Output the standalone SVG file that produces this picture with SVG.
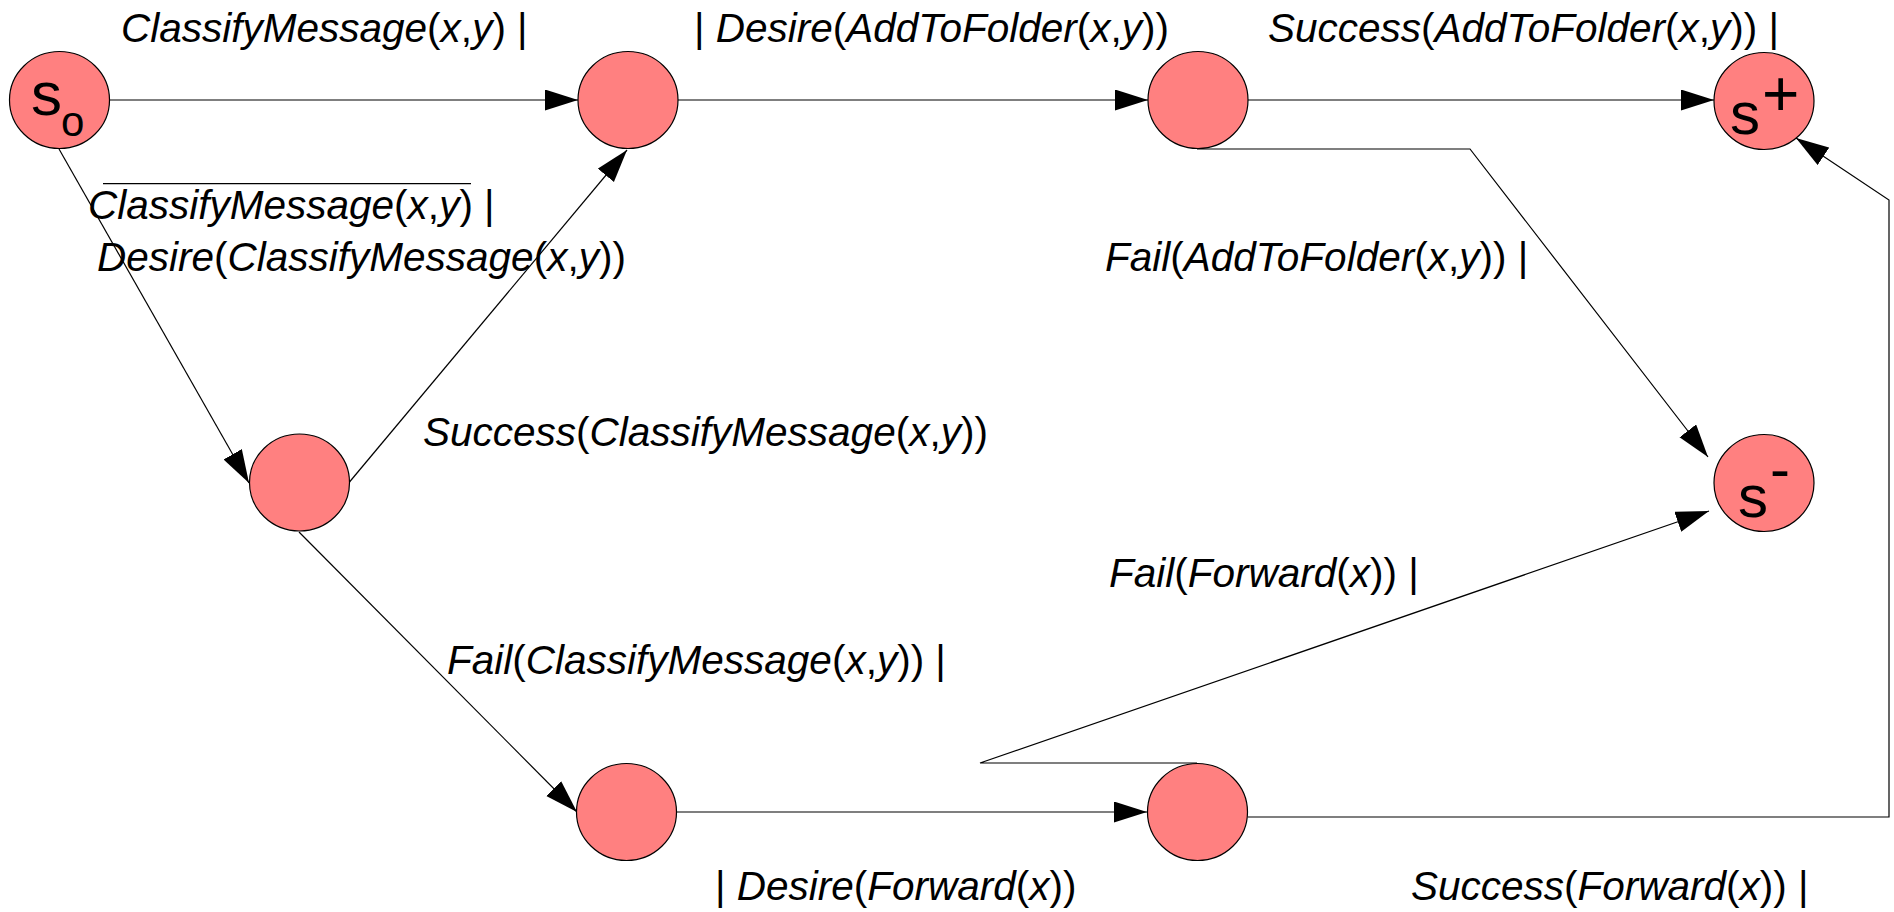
<svg xmlns="http://www.w3.org/2000/svg" width="1894" height="912" viewBox="0 0 1894 912">
<style>
.node{fill:#FF8080;stroke:#000;stroke-width:1.2}
.lbl{font-family:"Liberation Sans",Arial,sans-serif;font-size:40.5px;font-style:italic;fill:#000}
.u{font-style:normal}
.conn{fill:none;stroke:#000;stroke-width:1.2;marker-end:url(#arr)}
.st{font-family:"Liberation Sans",Arial,sans-serif;fill:#000}
</style>
<defs>
<marker id="arr" markerUnits="userSpaceOnUse" markerWidth="34" markerHeight="22" refX="33" refY="10.5" orient="auto" viewBox="0 0 34 22">
<path d="M0,0 L33,10.5 L0,21 z" fill="#000"/>
</marker>
</defs>
<rect width="1894" height="912" fill="#fff"/>
<g id="connectors">
<path class="conn" d="M109.5,100 L578,100"/>
<path class="conn" d="M678,100 L1148,100"/>
<path class="conn" d="M1248,100 L1714,100"/>
<path class="conn" d="M59,149 L249,483"/>
<path class="conn" d="M349.5,482 L627,150"/>
<path class="conn" d="M299,532 L577,812"/>
<path class="conn" d="M676,812 L1147,812"/>
<path class="conn" d="M1197,149 L1470,149 L1708,457"/>
<path class="conn" d="M1197,763 L980,763 L1709,511"/>
<path class="conn" d="M1248,817 L1889,817 L1889,200 L1796,138"/>
</g>
<g id="labels">
<text class="lbl" x="121" y="42">ClassifyMessage<tspan class="u">(</tspan>x<tspan class="u">,</tspan>y<tspan class="u">) |</tspan></text>
<text class="lbl" x="694" y="42"><tspan class="u">| </tspan>Desire<tspan class="u">(</tspan>AddToFolder<tspan class="u">(</tspan>x<tspan class="u">,</tspan>y<tspan class="u">))</tspan></text>
<text class="lbl" x="1268" y="42">Success<tspan class="u">(</tspan>AddToFolder<tspan class="u">(</tspan>x<tspan class="u">,</tspan>y<tspan class="u">)) |</tspan></text>
<line x1="103" y1="183.6" x2="471" y2="183.6" stroke="#000" stroke-width="1.3"/>
<text class="lbl" x="88" y="219">ClassifyMessage<tspan class="u">(</tspan>x<tspan class="u">,</tspan>y<tspan class="u">) |</tspan></text>
<text class="lbl" x="97" y="271">Desire<tspan class="u">(</tspan>ClassifyMessage<tspan class="u">(</tspan>x<tspan class="u">,</tspan>y<tspan class="u">))</tspan></text>
<text class="lbl" x="423" y="446">Success<tspan class="u">(</tspan>ClassifyMessage<tspan class="u">(</tspan>x<tspan class="u">,</tspan>y<tspan class="u">))</tspan></text>
<text class="lbl" x="1105" y="271">Fail<tspan class="u">(</tspan>AddToFolder<tspan class="u">(</tspan>x<tspan class="u">,</tspan>y<tspan class="u">)) |</tspan></text>
<text class="lbl" x="1109" y="587">Fail<tspan class="u">(</tspan>Forward<tspan class="u">(</tspan>x<tspan class="u">)) |</tspan></text>
<text class="lbl" x="447" y="674">Fail<tspan class="u">(</tspan>ClassifyMessage<tspan class="u">(</tspan>x<tspan class="u">,</tspan>y<tspan class="u">)) |</tspan></text>
<text class="lbl" x="715" y="900"><tspan class="u">| </tspan>Desire<tspan class="u">(</tspan>Forward<tspan class="u">(</tspan>x<tspan class="u">))</tspan></text>
<text class="lbl" x="1411" y="900">Success<tspan class="u">(</tspan>Forward<tspan class="u">(</tspan>x<tspan class="u">)) |</tspan></text>
</g>
<g id="s0">
<ellipse class="node" cx="59.5" cy="100" rx="50" ry="48.5"/>
<text class="st" x="31" y="115" font-size="62">s</text>
<text class="st" x="61" y="136" font-size="42">o</text>
</g>
<g id="n2"><ellipse class="node" cx="628" cy="100" rx="50" ry="48.5"/></g>
<g id="n4"><ellipse class="node" cx="1198" cy="100" rx="50" ry="48.5"/></g>
<g id="splus">
<ellipse class="node" cx="1764" cy="101" rx="50" ry="48.5"/>
<text class="st" x="1730" y="134" font-size="60">s</text>
<text class="st" x="1762" y="116" font-size="64">+</text>
</g>
<g id="n3"><ellipse class="node" cx="299.5" cy="482.5" rx="50" ry="48.5"/></g>
<g id="sminus">
<ellipse class="node" cx="1764" cy="483" rx="50" ry="48.5"/>
<text class="st" x="1738" y="517" font-size="60">s</text>
<text class="st" x="1770" y="489" font-size="60">-</text>
</g>
<g id="n5"><ellipse class="node" cx="626.5" cy="812" rx="50" ry="48.5"/></g>
<g id="n6"><ellipse class="node" cx="1197.5" cy="812" rx="50" ry="48.5"/></g>
</svg>
